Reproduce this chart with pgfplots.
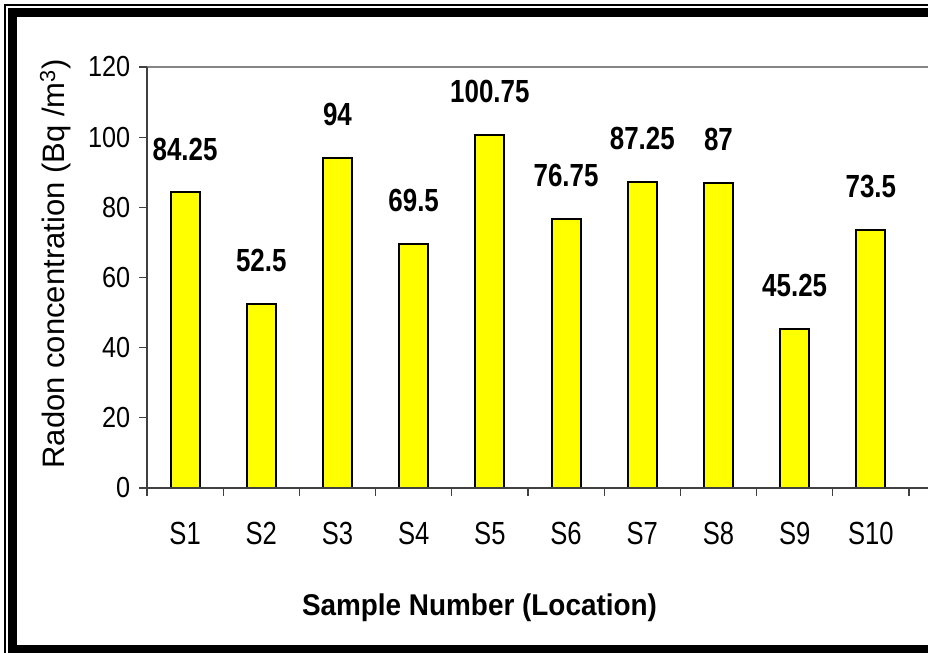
\documentclass[border=0pt]{standalone}
\usepackage{fontspec}
\setmainfont{Liberation Sans}
\usepackage{pgfplots}
\pgfplotsset{compat=1.18}
\definecolor{spine}{HTML}{404040}
\definecolor{topline}{HTML}{858585}
\definecolor{baryellow}{HTML}{FFFF00}

\begin{document}
\begin{tikzpicture}
\useasboundingbox (0,0) rectangle (928bp,653bp);
% double frame around the chart
\draw[line width=1.5bp] (5bp,-20bp) rectangle (950bp,648bp);
\draw[line width=8.5bp] (12.5bp,3.5bp) rectangle (950bp,640.3bp);

\begin{axis}[
  at={(147bp,165bp)}, anchor=south west,
  scale only axis, width=781bp, height=421bp,
  xmin=0.5, xmax=10.75, ymin=0, ymax=120,
  axis line style={draw=none},
  ybar, bar width=29bp,
  ytick={0,20,...,120},
  xtick={1,...,10},
  xticklabels={S1,S2,S3,S4,S5,S6,S7,S8,S9,S10},
  minor xtick={0.5,1.5,...,10.5},
  major x tick style={draw=none},
  xtick pos=bottom, ytick pos=left,
  tick align=outside,
  major tick length=8bp, minor tick length=8bp,
  every tick/.style={spine, line width=1.3bp},
  /pgf/number format/assume math mode=true,
  yticklabel style={font=\fontsize{29bp}{32bp}\selectfont, xscale=0.87, inner sep=0pt, anchor=east, xshift=-10bp},
  xticklabel style={font=\fontsize{32bp}{36bp}\selectfont, xscale=0.8, inner sep=0pt, anchor=north, yshift=-26bp},
  clip=false,
]
\addplot[fill=baryellow, draw=black, line width=2bp,
  nodes near coords, point meta=explicit symbolic,
  every node near coord/.style={font=\fontsize{32bp}{36bp}\selectfont\bfseries, xscale=0.81, inner sep=0pt, anchor=south, yshift=31bp}]
  coordinates {
  (1,84.25) [84.25]
  (2,52.5) [52.5]
  (3,94) [94]
  (4,69.5) [69.5]
  (5,100.75) [100.75]
  (6,76.75) [76.75]
  (7,87.25) [87.25]
  (8,87) [87]
  (9,45.25) [45.25]
  (10,73.5) [73.5]
  };
\draw[topline, line width=2.3bp] (axis cs:0.5,120) -- (axis cs:10.75,120);
\draw[spine, line width=2bp] (axis cs:0.5,0) -- (axis cs:0.5,120);
\draw[spine, line width=2bp] (axis cs:0.5,0) -- (axis cs:10.75,0);
\end{axis}

\node[rotate=90, anchor=base, font=\fontsize{31bp}{34bp}\selectfont, inner sep=0pt] at (64bp,389bp) {Radon concentration (Bq /m\textsuperscript{3})};
\node[anchor=base, font=\fontsize{30bp}{34bp}\selectfont\bfseries, xscale=0.93, inner sep=0pt] at (479.5bp,38bp) {Sample Number (Location)};
\end{tikzpicture}
\end{document}
